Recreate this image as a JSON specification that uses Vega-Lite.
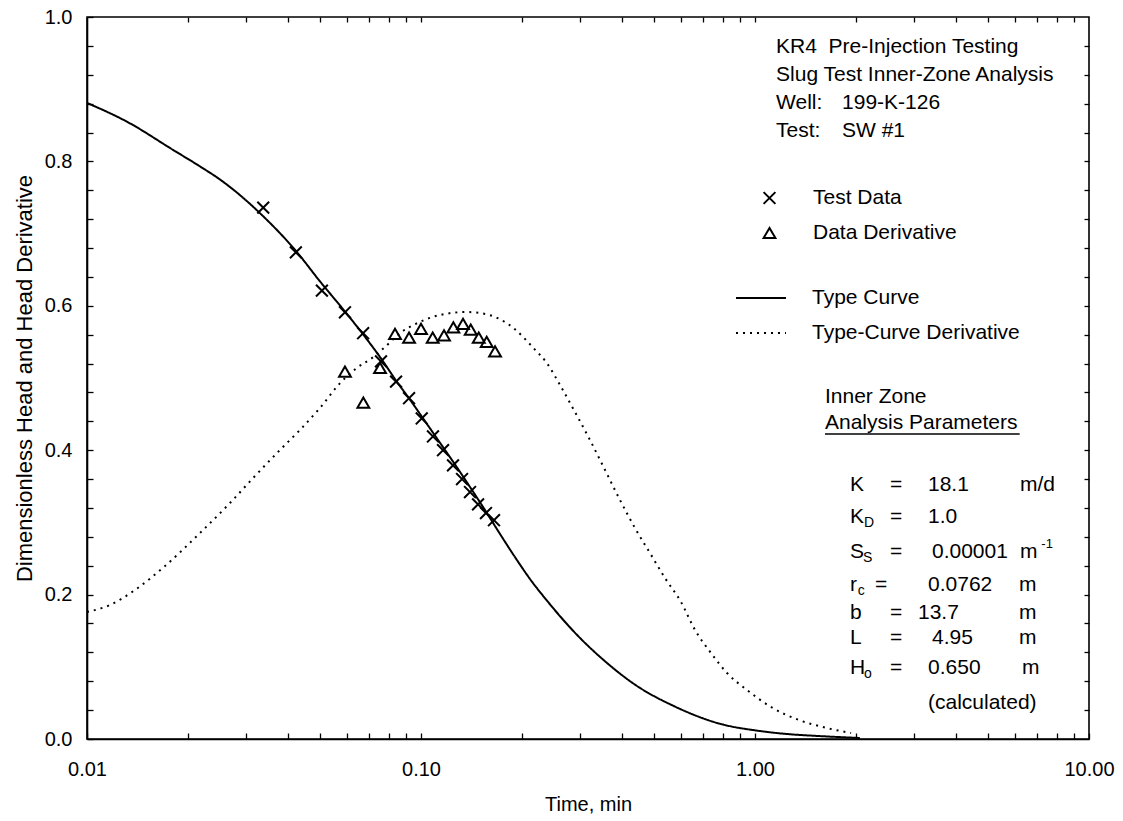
{
  "$schema": "https://vega.github.io/schema/vega-lite/v6.json",
  "width": 1002,
  "height": 722,
  "autosize": {"type": "none"},
  "padding": {"left": 87, "top": 17, "right": 34, "bottom": 82},
  "background": "white",
  "config": {
    "font": "Liberation Sans",
    "view": {"stroke": "black", "strokeWidth": 1.6},
    "axis": {
      "domainColor": "black", "domainWidth": 1.6, "tickColor": "black", "tickWidth": 1.3,
      "labelColor": "black", "titleColor": "black", "labelFont": "Liberation Sans",
      "titleFont": "Liberation Sans", "labelFontSize": 20, "titleFontWeight": "normal", "grid": false
    }
  },
  "datasets": {
    "curves": [
      {"t": 0.01, "y": 0.881, "series": "Type Curve"},
      {"t": 0.01317, "y": 0.855, "series": "Type Curve"},
      {"t": 0.01809, "y": 0.816, "series": "Type Curve"},
      {"t": 0.0218, "y": 0.793, "series": "Type Curve"},
      {"t": 0.025, "y": 0.775, "series": "Type Curve"},
      {"t": 0.0274, "y": 0.761, "series": "Type Curve"},
      {"t": 0.033, "y": 0.728, "series": "Type Curve"},
      {"t": 0.0424, "y": 0.675, "series": "Type Curve"},
      {"t": 0.0498, "y": 0.634, "series": "Type Curve"},
      {"t": 0.0585, "y": 0.595, "series": "Type Curve"},
      {"t": 0.0672, "y": 0.56, "series": "Type Curve"},
      {"t": 0.0762, "y": 0.526, "series": "Type Curve"},
      {"t": 0.0846, "y": 0.495, "series": "Type Curve"},
      {"t": 0.0927, "y": 0.47, "series": "Type Curve"},
      {"t": 0.1018, "y": 0.443, "series": "Type Curve"},
      {"t": 0.1141, "y": 0.41, "series": "Type Curve"},
      {"t": 0.1265, "y": 0.38, "series": "Type Curve"},
      {"t": 0.1402, "y": 0.349, "series": "Type Curve"},
      {"t": 0.1555, "y": 0.317, "series": "Type Curve"},
      {"t": 0.1724, "y": 0.284, "series": "Type Curve"},
      {"t": 0.1911, "y": 0.252, "series": "Type Curve"},
      {"t": 0.212, "y": 0.2216, "series": "Type Curve"},
      {"t": 0.2401, "y": 0.1898, "series": "Type Curve"},
      {"t": 0.2992, "y": 0.14, "series": "Type Curve"},
      {"t": 0.3531, "y": 0.1089, "series": "Type Curve"},
      {"t": 0.4372, "y": 0.0753, "series": "Type Curve"},
      {"t": 0.576, "y": 0.0449, "series": "Type Curve"},
      {"t": 0.802, "y": 0.02, "series": "Type Curve"},
      {"t": 1.0, "y": 0.012, "series": "Type Curve"},
      {"t": 1.247, "y": 0.0069, "series": "Type Curve"},
      {"t": 1.555, "y": 0.0041, "series": "Type Curve"},
      {"t": 2.06, "y": 0.0014, "series": "Type Curve"},
      {"t": 0.01, "y": 0.1759, "series": "Type-Curve Derivative"},
      {"t": 0.01172, "y": 0.1856, "series": "Type-Curve Derivative"},
      {"t": 0.01392, "y": 0.2064, "series": "Type-Curve Derivative"},
      {"t": 0.01712, "y": 0.2396, "series": "Type-Curve Derivative"},
      {"t": 0.02179, "y": 0.2853, "series": "Type-Curve Derivative"},
      {"t": 0.0268, "y": 0.3269, "series": "Type-Curve Derivative"},
      {"t": 0.03184, "y": 0.3643, "series": "Type-Curve Derivative"},
      {"t": 0.03783, "y": 0.4003, "series": "Type-Curve Derivative"},
      {"t": 0.0434, "y": 0.428, "series": "Type-Curve Derivative"},
      {"t": 0.0498, "y": 0.4584, "series": "Type-Curve Derivative"},
      {"t": 0.0573, "y": 0.4931, "series": "Type-Curve Derivative"},
      {"t": 0.0642, "y": 0.5139, "series": "Type-Curve Derivative"},
      {"t": 0.072, "y": 0.529, "series": "Type-Curve Derivative"},
      {"t": 0.078, "y": 0.5429, "series": "Type-Curve Derivative"},
      {"t": 0.0866, "y": 0.5623, "series": "Type-Curve Derivative"},
      {"t": 0.0992, "y": 0.5776, "series": "Type-Curve Derivative"},
      {"t": 0.114, "y": 0.5873, "series": "Type-Curve Derivative"},
      {"t": 0.137, "y": 0.5914, "series": "Type-Curve Derivative"},
      {"t": 0.16, "y": 0.5873, "series": "Type-Curve Derivative"},
      {"t": 0.189, "y": 0.5693, "series": "Type-Curve Derivative"},
      {"t": 0.217, "y": 0.5416, "series": "Type-Curve Derivative"},
      {"t": 0.238, "y": 0.5208, "series": "Type-Curve Derivative"},
      {"t": 0.2608, "y": 0.4903, "series": "Type-Curve Derivative"},
      {"t": 0.2891, "y": 0.4529, "series": "Type-Curve Derivative"},
      {"t": 0.3206, "y": 0.4141, "series": "Type-Curve Derivative"},
      {"t": 0.3556, "y": 0.3726, "series": "Type-Curve Derivative"},
      {"t": 0.3943, "y": 0.331, "series": "Type-Curve Derivative"},
      {"t": 0.4372, "y": 0.2922, "series": "Type-Curve Derivative"},
      {"t": 0.4848, "y": 0.2576, "series": "Type-Curve Derivative"},
      {"t": 0.5376, "y": 0.223, "series": "Type-Curve Derivative"},
      {"t": 0.6003, "y": 0.1898, "series": "Type-Curve Derivative"},
      {"t": 0.6613, "y": 0.151, "series": "Type-Curve Derivative"},
      {"t": 0.7384, "y": 0.1191, "series": "Type-Curve Derivative"},
      {"t": 0.8246, "y": 0.0914, "series": "Type-Curve Derivative"},
      {"t": 0.9463, "y": 0.0679, "series": "Type-Curve Derivative"},
      {"t": 1.117, "y": 0.0443, "series": "Type-Curve Derivative"},
      {"t": 1.354, "y": 0.0263, "series": "Type-Curve Derivative"},
      {"t": 1.643, "y": 0.0152, "series": "Type-Curve Derivative"},
      {"t": 1.939, "y": 0.0083, "series": "Type-Curve Derivative"}
    ],
    "pts": [
      {"t": 0.0337, "y": 0.736, "series": "Test Data"},
      {"t": 0.0422, "y": 0.674, "series": "Test Data"},
      {"t": 0.0505, "y": 0.621, "series": "Test Data"},
      {"t": 0.0592, "y": 0.591, "series": "Test Data"},
      {"t": 0.0671, "y": 0.562, "series": "Test Data"},
      {"t": 0.0759, "y": 0.523, "series": "Test Data"},
      {"t": 0.0842, "y": 0.495, "series": "Test Data"},
      {"t": 0.0921, "y": 0.472, "series": "Test Data"},
      {"t": 0.1005, "y": 0.444, "series": "Test Data"},
      {"t": 0.1086, "y": 0.419, "series": "Test Data"},
      {"t": 0.1164, "y": 0.4, "series": "Test Data"},
      {"t": 0.1247, "y": 0.379, "series": "Test Data"},
      {"t": 0.1327, "y": 0.36, "series": "Test Data"},
      {"t": 0.1402, "y": 0.342, "series": "Test Data"},
      {"t": 0.1482, "y": 0.325, "series": "Test Data"},
      {"t": 0.1565, "y": 0.313, "series": "Test Data"},
      {"t": 0.1654, "y": 0.303, "series": "Test Data"},
      {"t": 0.0592, "y": 0.509, "series": "Data Derivative"},
      {"t": 0.0672, "y": 0.466, "series": "Data Derivative"},
      {"t": 0.0754, "y": 0.514, "series": "Data Derivative"},
      {"t": 0.0836, "y": 0.561, "series": "Data Derivative"},
      {"t": 0.0921, "y": 0.556, "series": "Data Derivative"},
      {"t": 0.1, "y": 0.568, "series": "Data Derivative"},
      {"t": 0.1084, "y": 0.556, "series": "Data Derivative"},
      {"t": 0.1172, "y": 0.559, "series": "Data Derivative"},
      {"t": 0.125, "y": 0.57, "series": "Data Derivative"},
      {"t": 0.1336, "y": 0.575, "series": "Data Derivative"},
      {"t": 0.1409, "y": 0.567, "series": "Data Derivative"},
      {"t": 0.1489, "y": 0.556, "series": "Data Derivative"},
      {"t": 0.1573, "y": 0.55, "series": "Data Derivative"},
      {"t": 0.1666, "y": 0.537, "series": "Data Derivative"}
    ],
    "notes": [
      {"t": 1.156, "y": 0.9584, "text": "KR4\u00a0 Pre-Injection Testing"},
      {"t": 1.156, "y": 0.9197, "text": "Slug Test Inner-Zone Analysis"},
      {"t": 1.156, "y": 0.8809, "text": "Well:"},
      {"t": 1.822, "y": 0.8809, "text": "199-K-126"},
      {"t": 1.156, "y": 0.8421, "text": "Test:"},
      {"t": 1.822, "y": 0.8421, "text": "SW #1"},
      {"t": 1.62, "y": 0.4737, "text": "Inner Zone"},
      {"t": 1.62, "y": 0.4377, "text": "Analysis Parameters"},
      {"t": 1.925, "y": 0.3518, "text": "K"},
      {"t": 2.536, "y": 0.3518, "text": "="},
      {"t": 3.296, "y": 0.3518, "text": "18.1"},
      {"t": 6.215, "y": 0.3518, "text": "m/d"},
      {"t": 1.925, "y": 0.3075, "text": "K"},
      {"t": 2.536, "y": 0.3075, "text": "="},
      {"t": 3.296, "y": 0.3075, "text": "1.0"},
      {"t": 1.925, "y": 0.259, "text": "S"},
      {"t": 2.536, "y": 0.259, "text": "="},
      {"t": 3.388, "y": 0.259, "text": "0.00001"},
      {"t": 6.215, "y": 0.259, "text": "m"},
      {"t": 1.925, "y": 0.2133, "text": "r"},
      {"t": 2.287, "y": 0.2133, "text": "="},
      {"t": 3.296, "y": 0.2133, "text": "0.0762"},
      {"t": 6.173, "y": 0.2133, "text": "m"},
      {"t": 1.925, "y": 0.1745, "text": "b"},
      {"t": 2.536, "y": 0.1745, "text": "="},
      {"t": 3.076, "y": 0.1745, "text": "13.7"},
      {"t": 6.173, "y": 0.1745, "text": "m"},
      {"t": 1.925, "y": 0.1399, "text": "L"},
      {"t": 2.536, "y": 0.1399, "text": "="},
      {"t": 3.388, "y": 0.1399, "text": "4.95"},
      {"t": 6.173, "y": 0.1399, "text": "m"},
      {"t": 1.925, "y": 0.0983, "text": "H"},
      {"t": 2.536, "y": 0.0983, "text": "="},
      {"t": 3.296, "y": 0.0983, "text": "0.650"},
      {"t": 6.301, "y": 0.0983, "text": "m"},
      {"t": 3.296, "y": 0.0499, "text": "(calculated)"}
    ],
    "subs": [
      {"t": 2.12, "y": 0.3075, "text": "D"},
      {"t": 2.105, "y": 0.259, "text": "S"},
      {"t": 2.03, "y": 0.2133, "text": "c"},
      {"t": 2.12, "y": 0.0983, "text": "o"}
    ],
    "sups": [
      {"t": 7.2, "y": 0.259, "text": "-1"}
    ],
    "underline": [
      {"t": 1.62, "t2": 6.2, "y": 0.4225}
    ]
  },
  "layer": [
    {
      "encoding": {
        "x": {
          "field": "t", "type": "quantitative",
          "scale": {"type": "log", "domain": [0.01, 10], "nice": false},
          "axis": {
            "title": "Time, min", "titleFontSize": 20, "titlePadding": 15,
            "values": [0.01,0.02,0.03,0.04,0.05,0.06,0.07,0.08,0.09,0.1,0.2,0.3,0.4,0.5,0.6,0.7,0.8,0.9,1,2,3,4,5,6,7,8,9,10],
            "labelExpr": "(datum.value==0.01||datum.value==0.1||datum.value==1||datum.value==10) ? format(datum.value,'.2f') : ''",
            "tickSize": -6, "labelPadding": 26, "labelFlush": false, "labelOverlap": false, "labelBound": false
          }
        },
        "y": {
          "field": "y", "type": "quantitative",
          "scale": {"domain": [0, 1], "nice": false},
          "axis": {
            "title": "Dimensionless Head and Head Derivative", "titleFontSize": 22, "titlePadding": 8,
            "values": [0,0.04,0.08,0.12,0.16,0.2,0.24,0.28,0.32,0.36,0.4,0.44,0.48,0.52,0.56,0.6,0.64,0.68,0.72,0.76,0.8,0.84,0.88,0.92,0.96,1],
            "labelExpr": "abs(datum.value*5-round(datum.value*5))<0.001 ? format(datum.value,'.1f') : ''",
            "tickSize": -6, "labelPadding": 21, "labelOverlap": false, "labelBound": false
          }
        }
      },
      "layer": [
        {
          "data": {"name": "curves"},
          "mark": {"type": "line", "color": "black", "strokeWidth": 2, "interpolate": "monotone"},
          "encoding": {
            "strokeDash": {
              "field": "series", "type": "nominal",
              "scale": {"domain": ["Type Curve", "Type-Curve Derivative"], "range": [[1, 0], [2, 5]]},
              "legend": {
                "title": null, "orient": "none", "legendX": 648, "legendY": 271, "padding": 0,
                "symbolType": "stroke", "symbolSize": 2500, "symbolStrokeWidth": 2, "symbolStrokeColor": "black",
                "labelFontSize": 21, "labelFont": "Liberation Sans", "labelColor": "black", "labelOffset": 25,
                "rowPadding": 14, "clipHeight": 20, "labelLimit": 400
              }
            }
          }
        },
        {
          "data": {"name": "pts"},
          "mark": {"type": "point", "filled": false, "color": "black", "strokeWidth": 2, "size": 140, "opacity": 1},
          "encoding": {
            "shape": {
              "field": "series", "type": "nominal",
              "scale": {"domain": ["Test Data", "Data Derivative"], "range": ["M-1,-1L1,1M-1,1L1,-1", "triangle-up"]},
              "legend": {
                "title": null, "orient": "none", "legendX": 672, "legendY": 171, "padding": 0,
                "symbolSize": 140, "symbolStrokeWidth": 2, "symbolStrokeColor": "black", "symbolFillColor": "transparent",
                "labelFontSize": 21, "labelFont": "Liberation Sans", "labelColor": "black", "labelOffset": 33,
                "rowPadding": 14, "clipHeight": 20, "labelLimit": 400
              }
            }
          }
        },
        {
          "data": {"name": "notes"},
          "mark": {"type": "text", "align": "left", "baseline": "middle", "fontSize": 21, "font": "Liberation Sans", "color": "black"},
          "encoding": {"text": {"field": "text"}}
        },
        {
          "data": {"name": "subs"},
          "mark": {"type": "text", "align": "left", "baseline": "middle", "fontSize": 14, "dy": 6, "font": "Liberation Sans", "color": "black"},
          "encoding": {"text": {"field": "text"}}
        },
        {
          "data": {"name": "sups"},
          "mark": {"type": "text", "align": "left", "baseline": "middle", "fontSize": 13, "dy": -8, "font": "Liberation Sans", "color": "black"},
          "encoding": {"text": {"field": "text"}}
        },
        {
          "data": {"name": "underline"},
          "mark": {"type": "rule", "color": "black", "strokeWidth": 1.5},
          "encoding": {"x2": {"field": "t2"}}
        }
      ]
    },
    {
      "data": {"name": "underline"},
      "mark": {"type": "rule", "opacity": 0},
      "encoding": {
        "x": {
          "field": "t", "type": "quantitative",
          "scale": {"type": "log", "domain": [0.01, 10], "nice": false},
          "axis": {
            "orient": "top", "title": null, "labels": false, "domain": false,
            "values": [0.02,0.03,0.04,0.05,0.06,0.07,0.08,0.09,0.1,0.2,0.3,0.4,0.5,0.6,0.7,0.8,0.9,1,2,3,4,5,6,7,8,9],
            "tickSize": -5
          }
        },
        "y": {
          "field": "y", "type": "quantitative",
          "scale": {"domain": [0, 1], "nice": false},
          "axis": {
            "orient": "right", "title": null, "labels": false, "domain": false,
            "values": [0.04,0.08,0.12,0.16,0.2,0.24,0.28,0.32,0.36,0.4,0.44,0.48,0.52,0.56,0.6,0.64,0.68,0.72,0.76,0.8,0.84,0.88,0.92,0.96],
            "tickSize": -5
          }
        }
      }
    }
  ],
  "resolve": {"axis": {"x": "independent", "y": "independent"}}
}
